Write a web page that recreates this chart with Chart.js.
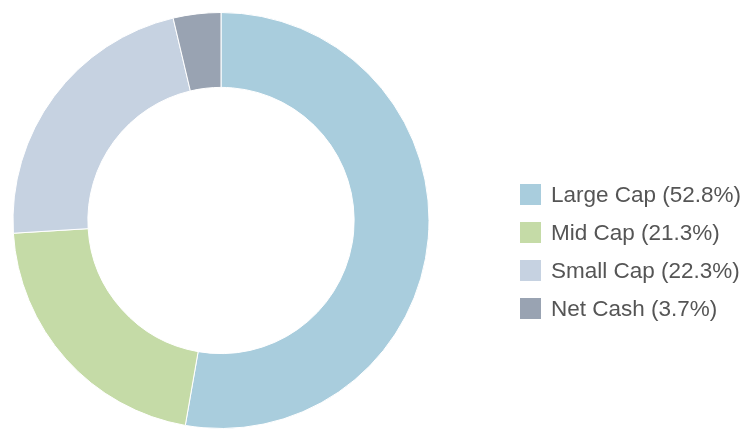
<!DOCTYPE html>
<html>
<head>
<meta charset="utf-8">
<script src="https://cdn.jsdelivr.net/npm/chart.js@4/dist/chart.umd.min.js"></script>
<style>
  html, body { margin: 0; padding: 0; background: #fff; }
  #wrap { position: relative; width: 747px; height: 429px; }
  #legend { position: absolute; left: 520px; top: 184px; font: 22.5px "Liberation Sans", Arial, sans-serif; color: #555; }
  .item { display: flex; align-items: center; height: 21px; white-space: nowrap; }
  .box { width: 21px; height: 21px; margin-right: 10px; flex: none; }
</style>
</head>
<body>
<div id="wrap">
  <canvas id="c" width="747" height="429"></canvas>
  <div id="legend"></div>
</div>
<script>
const categories = ["Large Cap", "Mid Cap", "Small Cap", "Net Cash"];
const shares = [52.8, 21.3, 22.3, 3.7];
const sliceColors = ["#a9cddd", "#c5dba7", "#c6d2e1", "#99a3b2"];

const legendEl = document.getElementById("legend");
categories.forEach((name, i) => {
  const row = document.createElement("div");
  row.className = "item";
  row.style.marginTop = i === 0 ? "0" : "17px";
  const box = document.createElement("span");
  box.className = "box";
  box.style.background = sliceColors[i];
  const label = document.createElement("span");
  label.textContent = `${name} (${shares[i]}%)`;
  row.appendChild(box);
  row.appendChild(label);
  legendEl.appendChild(row);
});

new Chart(document.getElementById("c"), {
  type: "doughnut",
  data: {
    labels: categories,
    datasets: [{
      data: shares,
      backgroundColor: sliceColors,
      borderColor: "#ffffff",
      borderWidth: 1,
    }],
  },
  options: {
    responsive: false,
    animation: false,
    cutout: "64%",
    layout: { padding: { left: 10, right: 315, top: 12, bottom: -4 } },
    plugins: {
      legend: { display: false },
      tooltip: { enabled: false },
    },
  },
});
</script>
</body>
</html>
